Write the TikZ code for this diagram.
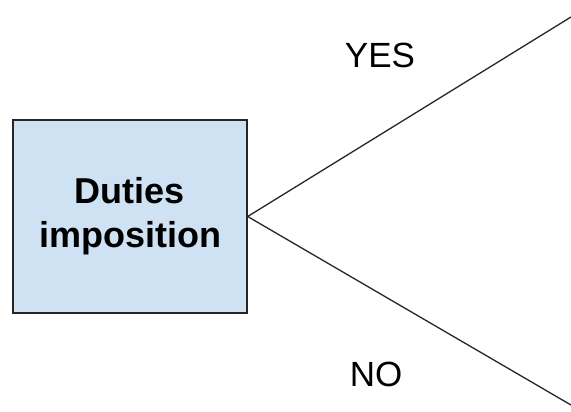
\documentclass[tikz,border=0pt]{standalone}
\usepackage{fontspec}
\setmainfont{Liberation Sans}
\definecolor{boxblue}{HTML}{CFE2F3}
\tikzset{
  duty/.style={draw=black!85, line width=1.3pt, fill=boxblue, minimum width=234pt, minimum height=193pt, align=center, font=\fontsize{36}{44}\selectfont\bfseries},
  answer/.style={font=\fontsize{35}{42}\selectfont},
  branch/.style={line width=1.3pt, black!85}
}
\begin{document}
\begin{tikzpicture}[x=1pt,y=-1pt]
\useasboundingbox (0,0) rectangle (571,412);
% decision box
\node [duty] (duties) at (130,216.5) {Duties\\imposition};
% branches
\coordinate (yesend) at (571,17);
\coordinate (noend) at (571,405);
\draw [branch] (yesend) -- (duties.east) -- (noend);
\node [answer] (yes) at (380,55) {YES};
\node [answer] (no) at (376,374) {NO};
\end{tikzpicture}
\end{document}
